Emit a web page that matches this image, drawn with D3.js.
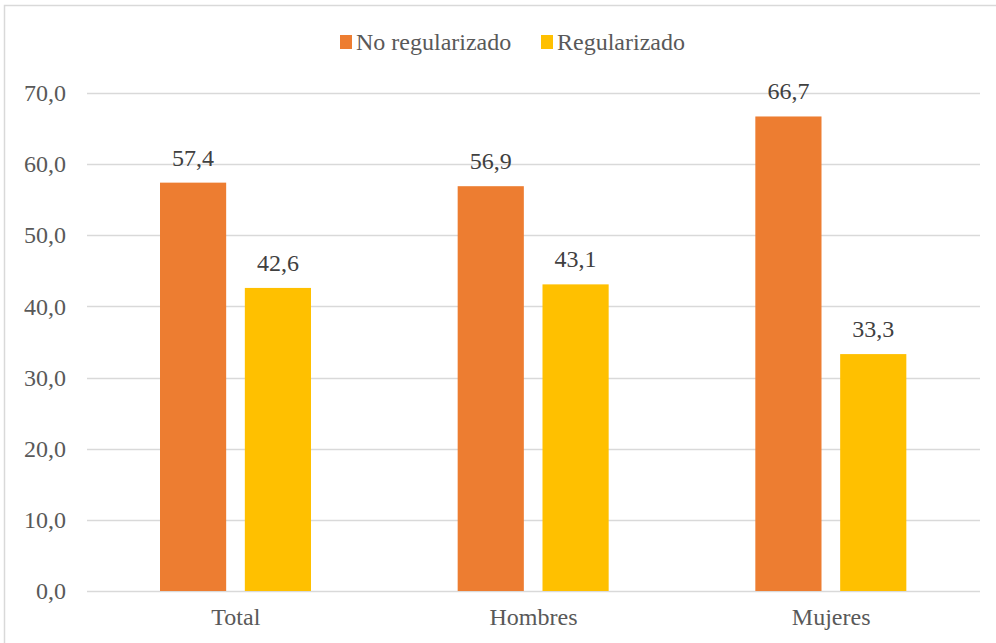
<!DOCTYPE html>
<html><head><meta charset="utf-8">
<script src="https://cdn.jsdelivr.net/npm/d3@7"></script>
</head><body style="margin:0">
<script>
const categories = ["Total", "Hombres", "Mujeres"];
const seriesNames = ["No regularizado", "Regularizado"];
const noRegularizado = [57.4, 56.9, 66.7];
const regularizado = [42.6, 43.1, 33.3];
const tickValues = [0, 10, 20, 30, 40, 50, 60, 70];
const colors = ["#ED7D31", "#FFC000"];

const W = 996, H = 643;
const FONT = '"Liberation Serif"';
const svg = d3.select("body").append("svg").attr("width", W).attr("height", H);

// chart frame
svg.append("rect").attr("x", 4.5).attr("y", 5.5).attr("width", 1000).attr("height", 700)
  .attr("fill", "none").attr("stroke", "#d9d9d9").attr("stroke-width", 1.5);

const x0 = d3.scaleBand().domain(categories).range([87, 980]).paddingInner(0).paddingOuter(0);
const y = d3.scaleLinear().domain([0, 70]).range([591, 93]);
const x1 = d3.scaleBand().domain(seriesNames).range([73, 224]).paddingInner(0.22);

// gridlines
svg.append("g").selectAll("line").data(tickValues).join("line")
  .attr("x1", 87).attr("x2", 980)
  .attr("y1", d => Math.round(y(d)) + 0.5).attr("y2", d => Math.round(y(d)) + 0.5)
  .attr("stroke", "#d9d9d9").attr("stroke-width", 1.3);

// y axis
const yAxis = svg.append("g").attr("transform", "translate(66,0)")
  .call(d3.axisLeft(y).tickValues(tickValues).tickSize(0).tickPadding(0).tickFormat(d => d.toFixed(1).replace(".", ",")));
yAxis.select(".domain").remove();
yAxis.attr("font-family", null).attr("font-size", null);
yAxis.selectAll("text").style("font-family", FONT).attr("font-size", 24).attr("fill", "#595959").attr("dy", "0.32em");

// x axis labels
const xAxis = svg.append("g").attr("transform", "translate(0,591)")
  .call(d3.axisBottom(x0).tickSize(0).tickPadding(0));
xAxis.select(".domain").remove();
xAxis.attr("font-family", null).attr("font-size", null);
xAxis.selectAll("text").style("font-family", FONT).attr("font-size", 24).attr("fill", "#595959")
  .attr("dy", null).attr("y", 34);

const data = categories.map((c, i) => ({cat: c, vals: [noRegularizado[i], regularizado[i]]}));
const groups = svg.append("g").selectAll("g").data(data).join("g")
  .attr("transform", d => `translate(${x0(d.cat)},0)`);

groups.selectAll("rect").data(d => d.vals.map((v, j) => ({name: seriesNames[j], v, j}))).join("rect")
  .attr("x", d => x1(d.name)).attr("width", x1.bandwidth())
  .attr("y", d => y(d.v)).attr("height", d => y(0) - y(d.v))
  .attr("fill", d => colors[d.j]);

groups.selectAll("text.lbl").data(d => d.vals.map((v, j) => ({name: seriesNames[j], v, j}))).join("text")
  .attr("class", "lbl")
  .attr("x", d => x1(d.name) + x1.bandwidth() / 2).attr("y", d => y(d.v) - 17)
  .attr("text-anchor", "middle").style("font-family", FONT).attr("font-size", 24).attr("fill", "#404040")
  .text(d => d.v.toFixed(1).replace(".", ","));

// legend
const legend = svg.append("g");
const items = [{n: seriesNames[0], x: 340}, {n: seriesNames[1], x: 541}];
items.forEach((it, i) => {
  legend.append("rect").attr("x", it.x).attr("y", 35).attr("width", 12).attr("height", 14).attr("fill", colors[i]);
  legend.append("text").attr("x", it.x + 16).attr("y", 50).style("font-family", FONT).attr("font-size", 24)
    .attr("fill", "#595959").text(it.n);
});
</script>
</body></html>
